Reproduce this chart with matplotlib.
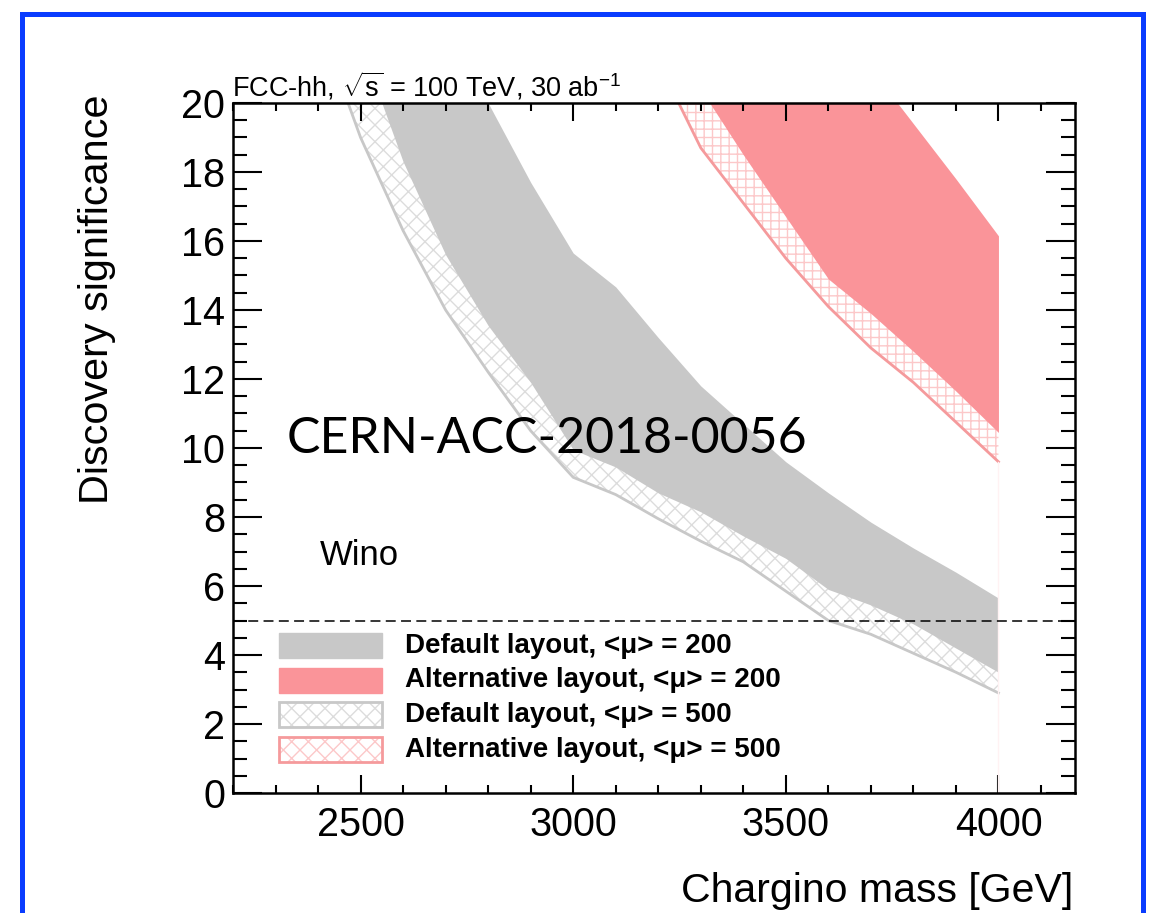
import matplotlib
matplotlib.use("Agg")
import matplotlib.pyplot as plt
from matplotlib.patches import Rectangle
from matplotlib.ticker import MultipleLocator

# Chargino mass grid [GeV] and discovery significance bands
mass = [2400, 2500, 2600, 2700, 2800, 2900, 3000, 3100, 3200,
        3300, 3400, 3500, 3600, 3700, 3800, 3900, 4000]
def200_hi = [29.0, 27.0, 25.0, 22.6, 20.0, 17.7, 15.65, 14.67, 13.2,
             11.8, 10.7, 9.6, 8.7, 7.85, 7.1, 6.4, 5.65]
def200_lo = [25.5, 21.7, 18.3, 15.6, 13.55, 11.9, 9.95, 9.45, 8.7,
             8.15, 7.45, 6.8, 5.9, 5.45, 4.9, 4.2, 3.5]
def500_hi = [27.0, 24.0, 21.0, 18.5, 16.0, 14.0, 12.0, 11.5, 10.5,
             9.8, 9.0, 8.2, 7.2, 6.6, 6.0, 5.3, 4.5]
def500_lo = [22.4, 19.0, 16.3, 14.0, 12.2, 10.5, 9.15, 8.65, 7.95,
             7.3, 6.7, 5.85, 5.0, 4.6, 4.05, 3.5, 2.9]

alt_mass = [3100, 3200, 3300, 3400, 3500, 3600, 3700, 3800, 3900, 4000]
alt200_hi = [28.0, 26.5, 25.0, 24.0, 23.0, 22.2, 21.0, 19.4, 17.8, 16.15]
alt200_lo = [24.5, 22.4, 20.4, 18.5, 16.7, 14.9, 13.9, 12.8, 11.65, 10.45]
alt500_hi = [26.0, 24.0, 22.0, 20.5, 19.0, 17.5, 16.5, 15.5, 14.0, 12.5]
alt500_lo = [23.8, 21.2, 18.7, 17.1, 15.5, 14.1, 12.9, 11.9, 10.75, 9.6]

discovery_level = 5

legend_labels = ["Default layout, <\u03bc> = 200",
                 "Alternative layout, <\u03bc> = 200",
                 "Default layout, <\u03bc> = 500",
                 "Alternative layout, <\u03bc> = 500"]

plt.rcParams["font.family"] = ["Liberation Sans", "DejaVu Sans"]
plt.rcParams["mathtext.fontset"] = "custom"
plt.rcParams["mathtext.rm"] = "Liberation Sans"
plt.rcParams["mathtext.it"] = "Liberation Sans:italic"
plt.rcParams["mathtext.bf"] = "Liberation Sans:bold"
plt.rcParams["hatch.linewidth"] = 1.0

W, H = 1151, 913
fig = plt.figure(figsize=(W / 100, H / 100), dpi=100)
L, R, T, B = 233, 1075, 103, 793
ax = fig.add_axes([L / W, 1 - B / H, (R - L) / W, (B - T) / H])

GRAY = "#c8c8c8"
GRAY_HATCH = "#dcdcdc"
RED = "#fa9499"
RED_LINE = "#f59a9c"
RED_HATCH = "#fcc8c9"

# <mu> = 500 bands underneath, only their lower part stays visible
ax.fill_between(mass, def500_lo, def500_hi, facecolor="white",
                edgecolor=GRAY_HATCH, hatch="xx", linewidth=0)
ax.plot(mass, def500_lo, color=GRAY, lw=2.0)
ax.fill_between(alt_mass, alt500_lo, alt500_hi, facecolor="white",
                edgecolor=RED_HATCH, hatch="++", linewidth=0)
ax.plot(alt_mass, alt500_lo, color=RED_LINE, lw=2.0)

# <mu> = 200 bands on top
ax.fill_between(mass, def200_lo, def200_hi, color=GRAY, lw=0)
ax.fill_between(alt_mass, alt200_lo, alt200_hi, color=RED, lw=0)
ax.plot([alt_mass[-1], alt_mass[-1]], [0, alt500_lo[-1]],
        color="#fff2f3", lw=1.0)

ax.axhline(discovery_level, color="black", lw=1.1, ls=(0, (6.5, 3.5)))

ax.set_xlim(2200, 4180)
ax.set_ylim(0, 20)
ax.xaxis.set_major_locator(MultipleLocator(500))
ax.xaxis.set_minor_locator(MultipleLocator(100))
ax.yaxis.set_major_locator(MultipleLocator(2))
ax.yaxis.set_minor_locator(MultipleLocator(0.5))
ax.tick_params(which="both", direction="in", top=True, right=True,
               width=1.5, labelsize=28.5, color="black")
ax.tick_params(axis="x", which="major", length=13, pad=9)
ax.tick_params(axis="x", which="minor", length=6)
ax.tick_params(axis="y", which="major", length=21, pad=5.5)
ax.tick_params(axis="y", which="minor", length=10)
for sp in ax.spines.values():
    sp.set_linewidth(1.8)


def fx(px):
    return (px - L) / (R - L)


def fy(py):
    return (B - py) / (B - T)


# Legend
row_centres = [645.5, 680.0, 714.5, 749.5]
box_w = fx(382) - fx(279)
box_h = 25 / (B - T)
for i, (yc, lab) in enumerate(zip(row_centres, legend_labels)):
    x0, y0 = fx(279), fy(yc + 12.5)
    if i == 0:
        ax.add_patch(Rectangle((x0, y0), box_w, box_h, transform=ax.transAxes,
                               facecolor=GRAY, edgecolor=GRAY, lw=1))
    elif i == 1:
        ax.add_patch(Rectangle((x0, y0), box_w, box_h, transform=ax.transAxes,
                               facecolor=RED, edgecolor=RED, lw=1))
    else:
        hc = GRAY_HATCH if i == 2 else RED_HATCH
        lc = GRAY if i == 2 else RED_LINE
        ax.add_patch(Rectangle((x0, y0), box_w, box_h, transform=ax.transAxes,
                               facecolor="white", edgecolor=hc, hatch="xx", lw=0))
        ax.add_patch(Rectangle((x0, y0), box_w, box_h, transform=ax.transAxes,
                               fill=False, edgecolor=lc, lw=2.0))
    ax.text(fx(405), fy(yc), lab, transform=ax.transAxes, fontsize=20,
            fontweight="bold", ha="left", va="center")

ax.text(fx(320), fy(565), "Wino", transform=ax.transAxes, fontsize=25,
        ha="left", va="baseline")
ax.text(fx(287), fy(453), "CERN-ACC-2018-0056", transform=ax.transAxes,
        fontsize=36, family="Lato", ha="left", va="baseline")

fig.text(232 / W, 1 - 97 / H,
         r"FCC-hh, $\sqrt{\mathrm{s}}$ = 100 TeV, 30 ab$^{\mathrm{-1}}$",
         fontsize=19.5, ha="left", va="baseline")
fig.text(1073 / W, 1 - 902 / H, "Chargino mass [GeV]", fontsize=29.5,
         ha="right", va="baseline")
fig.text(108 / W, 1 - 95 / H, "Discovery significance", fontsize=29.8,
         rotation=90, rotation_mode="anchor", ha="right", va="baseline")

# Slide frame
fig.add_artist(Rectangle((22 / W, -0.1), 1121 / W, 1.1 - 14 / H,
                         transform=fig.transFigure, fill=False,
                         edgecolor="#0a3cff", lw=3.6))

fig.savefig("out.png", dpi=100)
